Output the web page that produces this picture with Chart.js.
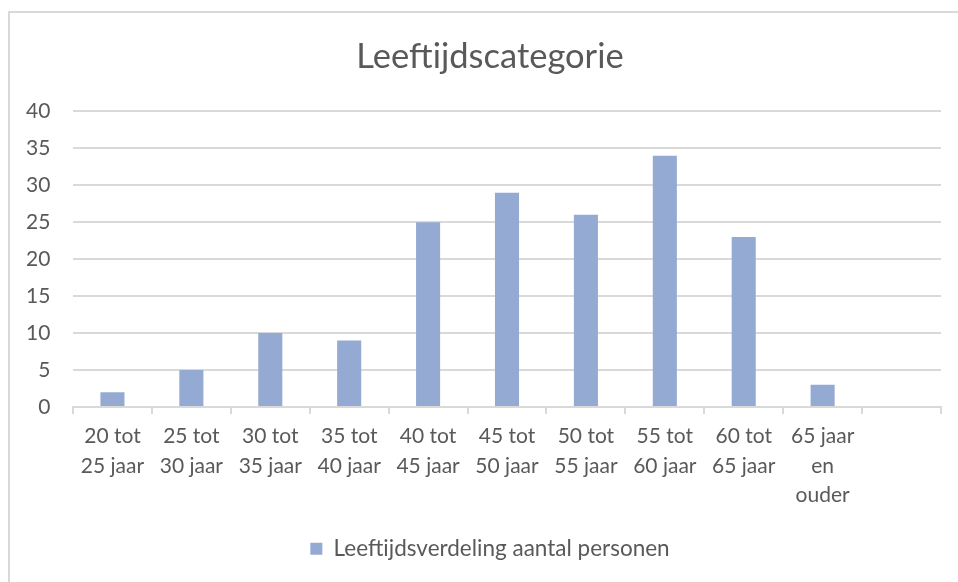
<!DOCTYPE html>
<html>
<head>
<meta charset="utf-8">
<script src="https://cdn.jsdelivr.net/npm/chart.js@4"></script>
<style>
  html, body { margin: 0; padding: 0; background: #fff; }
  #frame {
    position: absolute; left: 8px; top: 11px; width: 980px; height: 600px;
    border: 2px solid #d9d9d9; box-sizing: border-box;
  }
  #wrap { position: absolute; left: 0; top: 0; width: 958px; height: 582px; }
</style>
</head>
<body>
<div id="frame"></div>
<div id="wrap"><canvas id="grafiek" width="958" height="582"></canvas></div>
<script>
var categorieen = [
    ['20 tot', '25 jaar'], ['25 tot', '30 jaar'], ['30 tot', '35 jaar'], ['35 tot', '40 jaar'],
    ['40 tot', '45 jaar'], ['45 tot', '50 jaar'], ['50 tot', '55 jaar'], ['55 tot', '60 jaar'],
    ['60 tot', '65 jaar'], ['65 jaar', 'en', 'ouder'], ''
];
var aantallen = [2, 5, 10, 9, 25, 29, 26, 34, 23, 3, null];
var yTicks = [0, 5, 10, 15, 20, 25, 30, 35, 40];

var tekstKleur = '#595959';
var lijnKleur = '#d9d9d9';
var fontFam = 'Lato, "Open Sans", sans-serif';

var ctx = document.getElementById('grafiek').getContext('2d');
var grafiek = new Chart(ctx, {
    type: 'bar',
    data: {
        labels: categorieen,
        datasets: [{
            label: 'Leeftijdsverdeling aantal personen',
            data: aantallen,
            backgroundColor: '#95aad2',
            borderWidth: 0,
            categoryPercentage: 1,
            barPercentage: 0.305
        }]
    },
    options: {
        responsive: false,
        maintainAspectRatio: false,
        animation: false,
        // links extra ruimte zodat titel en legenda iets rechts van het midden staan
        layout: { padding: { left: 39, right: 17, top: 0, bottom: 12 } },
        plugins: {
            title: {
                display: true,
                text: 'Leeftijdscategorie',
                color: tekstKleur,
                font: { family: fontFam, size: 34.5, weight: 'normal', lineHeight: 1.2 },
                padding: { top: 36, bottom: 34 }
            },
            legend: {
                position: 'bottom',
                labels: {
                    color: tekstKleur,
                    font: { family: fontFam, size: 22.5 },
                    boxWidth: 12,
                    boxHeight: 12,
                    padding: 10
                }
            },
            tooltip: { enabled: false }
        },
        scales: {
            x: {
                offset: true,
                afterFit: function (as) { as.height = 120.5; },
                grid: {
                    offset: true,
                    display: true,
                    drawOnChartArea: false,
                    drawTicks: true,
                    tickLength: 7,
                    color: lijnKleur,
                    lineWidth: 2
                },
                border: { color: lijnKleur, width: 2 },
                ticks: {
                    color: tekstKleur,
                    font: { family: fontFam, size: 21, lineHeight: 1.4 },
                    maxRotation: 0,
                    autoSkip: false,
                    padding: 8
                }
            },
            y: {
                min: 0,
                max: 40,
                afterFit: function (as) { as.width = 34; },
                afterBuildTicks: function (as) {
                    as.ticks = yTicks.map(function (v) { return { value: v }; });
                },
                grid: { color: lijnKleur, lineWidth: 2, drawTicks: false },
                border: { display: false },
                // mirror + negatieve padding: labels rechts uitgelijnd links van de as, zonder afknippen
                ticks: {
                    color: tekstKleur,
                    font: { family: fontFam, size: 21 },
                    mirror: true,
                    crossAlign: 'far',
                    padding: -47
                }
            }
        }
    }
});
</script>
</body>
</html>
